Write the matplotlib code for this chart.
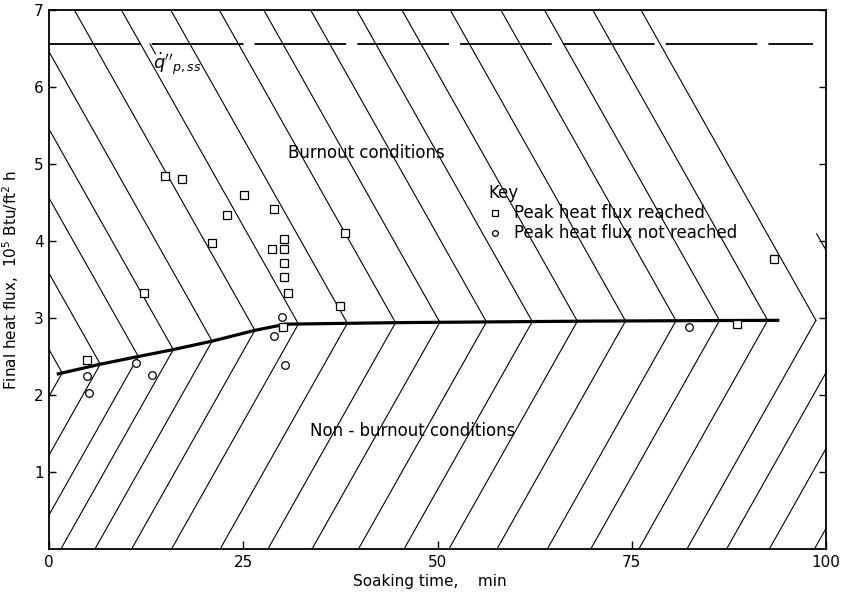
import numpy as np
import matplotlib
matplotlib.use("Agg")
import matplotlib.pyplot as plt

plt.rcParams['font.family'] = ['DejaVu Sans']
plt.rcParams['lines.scale_dashes'] = False

# ---- data ----
# peak heat flux reached (squares)
sq_x = [4.9, 12.2, 14.9, 17.1, 21.0, 22.9, 25.1, 29.0, 28.7, 30.3, 30.3, 30.2, 30.2, 30.8, 30.1, 38.1, 37.4, 93.3, 88.5]
sq_y = [2.46, 3.32, 4.84, 4.81, 3.97, 4.34, 4.60, 4.41, 3.90, 4.03, 3.90, 3.72, 3.53, 3.33, 2.88, 4.10, 3.15, 3.77, 2.92]
# peak heat flux not reached (circles)
ci_x = [4.9, 5.1, 11.2, 13.2, 30.0, 28.9, 30.4, 82.4]
ci_y = [2.25, 2.02, 2.42, 2.26, 3.01, 2.76, 2.39, 2.88]
# burnout boundary
bd_x = [1.0, 6.6, 11.5, 16.0, 21.0, 26.5, 30.5, 45.0, 70.0, 94.0]
bd_y = [2.27, 2.40, 2.50, 2.59, 2.70, 2.84, 2.92, 2.94, 2.96, 2.97]
# steady peak heat flux level
q_pss = 6.56
# hatching chevron tip positions (min)
tip_x = [1.7, 6.6, 11.5, 16.0, 21.0, 26.5, 32.1, 38.4, 44.6, 50.3, 56.3, 62.2,
         68.0, 74.2, 80.7, 86.3, 92.5, 98.7]
# lower hatch lines continuing past the right edge
tip_x_out = [103.8, 109.3, 115.1]
x_ticks = [0, 25, 50, 75, 100]
y_ticks = [1, 2, 3, 4, 5, 6, 7]

fig = plt.figure(figsize=(8.41, 5.92), dpi=100)
ax = fig.add_axes([49/841, 1-549/592, 777/841, 539/592])
ax.set_xlim(0, 100)
ax.set_ylim(0, 7)

HL = dict(color='black', lw=0.8, zorder=1)
# hatching (chevrons pointing at the boundary)
s = 0.179  # data slope of hatch lines
for xt in tip_x:
    yt = float(np.interp(xt, bd_x, bd_y))
    xu = xt - (7 - yt) / s
    if xu >= 0:
        ax.plot([xt, xu], [yt, 7], **HL)
    else:
        ax.plot([xt, 0], [yt, yt + xt * s], **HL)
    xl = xt - yt / s
    if xl >= 0:
        ax.plot([xt, xl], [yt, 0], **HL)
    else:
        ax.plot([xt, 0], [yt, yt - xt * s], **HL)
for xt in tip_x_out:
    yt = bd_y[-1]
    ax.plot([xt, xt - yt / s], [yt, 0], **HL)
# short upper fragment at the right edge
ax.plot([100, 98.8], [3.88, 3.88 + 1.2 * s], **HL)

# dashed q_p,ss line
ax.plot([0, 98.3], [q_pss, q_pss], color='black', lw=1.3, dashes=[66, 8], zorder=2)
ax.plot([13.0, 13.7], [6.56, 6.43], color='black', lw=0.8)
ax.text(13.4, 6.30, r"$\dot{q}''_{p,ss}$", fontsize=13, ha='left', va='center')

# boundary line
ax.plot(bd_x, bd_y, color='black', lw=2.3, zorder=3, solid_capstyle='butt')

# data points
ax.plot(sq_x, sq_y, ls='none', marker='s', ms=5.5, mfc='white', mec='black', mew=0.9,
        zorder=4, label='Peak heat flux reached')
ax.plot(ci_x, ci_y, ls='none', marker='o', ms=5.5, mfc='white', mec='black', mew=0.9,
        zorder=4, label='Peak heat flux not reached')

leg = ax.legend(loc='upper left', bbox_to_anchor=(0.555, 0.692), frameon=False,
                title='Key', alignment='left', fontsize=12, title_fontsize=12,
                handlelength=0.8, handletextpad=0.7, borderpad=0, labelspacing=0.12,
                markerscale=0.75)

ax.text(30.7, 5.14, 'Burnout conditions', fontsize=12, ha='left', va='center')
ax.text(33.6, 1.53, 'Non - burnout conditions', fontsize=12, ha='left', va='center')

# axes styling
for sp in ax.spines.values():
    sp.set_linewidth(1.3)
ax.set_xticks(x_ticks)
ax.set_yticks(y_ticks)
ax.set_xticklabels([str(v) for v in x_ticks])
ax.set_yticklabels([str(v) for v in y_ticks])
ax.tick_params(axis='both', direction='in', labelsize=11, width=1.0)
ax.tick_params(axis='y', length=5, pad=4, right=True)
ax.tick_params(axis='x', length=6, pad=4)

ax.set_xlabel('Soaking time,    min', fontsize=11)
ax.xaxis.set_label_coords(0.49, -0.047)
ax.set_ylabel('Final heat flux,  10$^5$ Btu/ft$^2$ h', fontsize=11)
ax.yaxis.set_label_coords(-0.036, 0.50)

fig.savefig('out.png', dpi=100)
